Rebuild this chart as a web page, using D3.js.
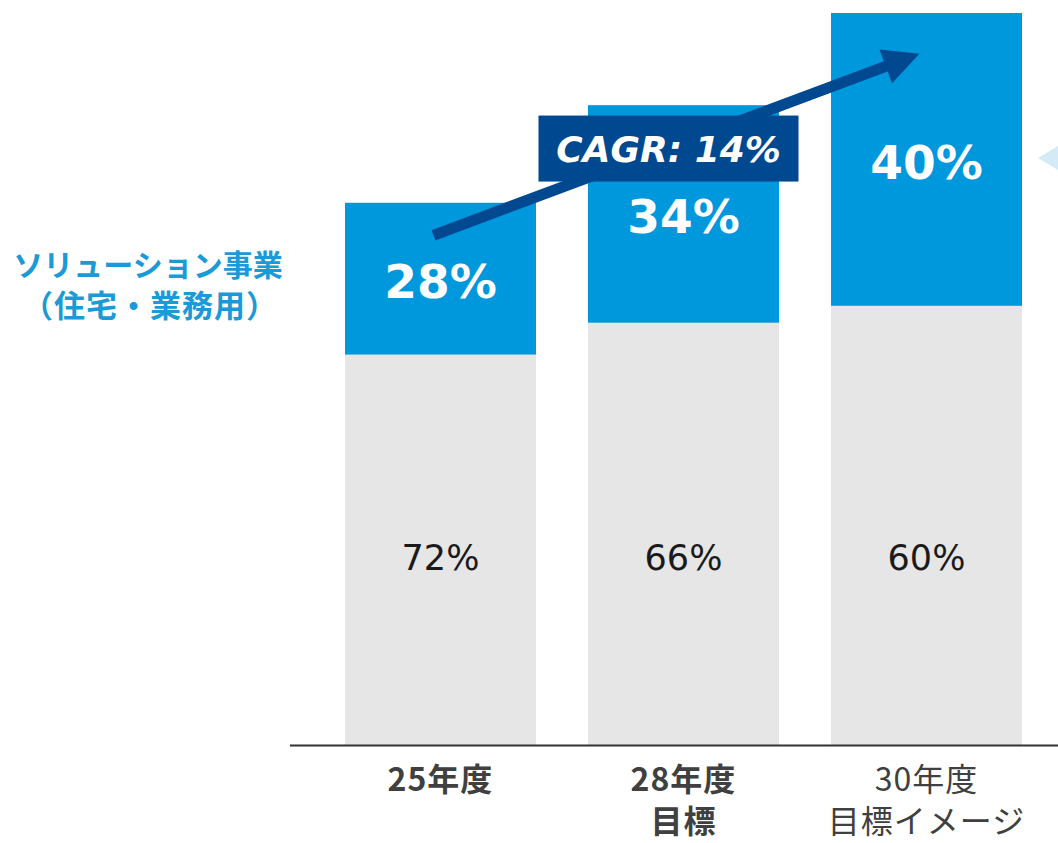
<!DOCTYPE html>
<html>
<head>
<meta charset="utf-8">
<script src="https://cdn.jsdelivr.net/npm/d3@7"></script>
<style>
  html, body { margin: 0; padding: 0; background: #ffffff; }
  svg { display: block; }
</style>
</head>
<body>
<svg id="chart" width="1058" height="843"></svg>
<script>
// Fiscal-year categories and their second label line
const categories = ["25年度", "28年度", "30年度"];
const categorySub = ["", "目標", "目標イメージ"];
const categoryBold = [true, true, false];

// Overall size index (25年度 = 100)
const totals = [100, 118, 135];
// Share of the solution business (住宅・業務用) and of the rest, in %
const solutionShare = [28, 34, 40];
const otherShare = [72, 66, 60];

const cagrLabel = "CAGR: 14%";
const segmentLabel = ["ソリューション事業", "（住宅・業務用）"];

const W = 1058, H = 843;
const svg = d3.select("#chart");

const x = d3.scaleBand()
  .domain(categories)
  .range([345, 1022])
  .paddingInner(0.214)
  .paddingOuter(0);

const y = d3.scaleLinear()
  .domain([0, 135])
  .range([745, 13]);

const rows = categories.map((c, i) => {
  const other = totals[i] * otherShare[i] / 100;
  const sol = totals[i] * solutionShare[i] / 100;
  return { cat: c, i, other, sol, total: other + sol };
});

const BLUE = "#0098dd";
const GRAY = "#e6e6e6";
const NAVY = "#00488f";

// Remaining businesses (bottom segment)
svg.append("g").selectAll("rect")
  .data(rows).join("rect")
  .attr("x", d => x(d.cat))
  .attr("width", x.bandwidth())
  .attr("y", d => y(d.other))
  .attr("height", d => y(0) - y(d.other))
  .attr("fill", GRAY);

// Solution business (top segment)
svg.append("g").selectAll("rect")
  .data(rows).join("rect")
  .attr("x", d => x(d.cat))
  .attr("width", x.bandwidth())
  .attr("y", d => y(d.total))
  .attr("height", d => y(d.other) - y(d.total))
  .attr("fill", BLUE);

// Share labels
svg.append("g").selectAll("text")
  .data(rows).join("text")
  .attr("x", d => x(d.cat) + x.bandwidth() / 2)
  .attr("y", d => (y(d.total) + y(d.other)) / 2 + 3)
  .attr("text-anchor", "middle")
  .attr("dominant-baseline", "central")
  .attr("font-family", "DejaVu Sans, Verdana, sans-serif")
  .attr("font-weight", "bold")
  .attr("font-size", 47)
  .attr("fill", "#ffffff")
  .text(d => solutionShare[d.i] + "%");

svg.append("g").selectAll("text")
  .data(rows).join("text")
  .attr("x", d => x(d.cat) + x.bandwidth() / 2)
  .attr("y", y(34.5))
  .attr("text-anchor", "middle")
  .attr("dominant-baseline", "central")
  .attr("font-family", "DejaVu Sans, Verdana, sans-serif")
  .attr("font-size", 35)
  .attr("fill", "#1a1a1a")
  .text(d => otherShare[d.i] + "%");

// Baseline
svg.append("line")
  .attr("x1", 290).attr("x2", W)
  .attr("y1", y(0) + 0.5).attr("y2", y(0) + 0.5)
  .attr("stroke", "#333333")
  .attr("stroke-width", 2);

// Category labels
const catG = svg.append("g")
  .attr("font-family", "'Noto Sans CJK JP', sans-serif")
  .attr("fill", "#404040")
  .attr("text-anchor", "middle");
rows.forEach(d => {
  const cx = x(d.cat) + x.bandwidth() / 2;
  const t = catG.append("text")
    .attr("x", cx)
    .attr("font-size", 32)
    .attr("letter-spacing", 1)
    .attr("font-weight", categoryBold[d.i] ? "bold" : "normal");
  t.append("tspan").attr("x", cx).attr("y", 791).text(d.cat);
  if (categorySub[d.i]) {
    t.append("tspan").attr("x", cx).attr("y", 833).text(categorySub[d.i]);
  }
});

// Growth arrow from the first to the last bar
const a0 = [x(categories[0]) + x.bandwidth() / 2 - 7, y(94)];
const a1 = [x(categories[2]) + x.bandwidth() / 2 - 7, y(127.5)];
const dx = a1[0] - a0[0], dy = a1[1] - a0[1];
const len = Math.hypot(dx, dy);
const ux = dx / len, uy = dy / len;
const headLen = 36, headHalf = 18;
const base = [a1[0] - ux * headLen, a1[1] - uy * headLen];
svg.append("line")
  .attr("x1", a0[0]).attr("y1", a0[1])
  .attr("x2", base[0] + ux * 2).attr("y2", base[1] + uy * 2)
  .attr("stroke", NAVY)
  .attr("stroke-width", 11);
svg.append("polygon")
  .attr("points", [
    a1,
    [base[0] - uy * headHalf, base[1] + ux * headHalf],
    [base[0] + uy * headHalf, base[1] - ux * headHalf]
  ].map(p => p.join(",")).join(" "))
  .attr("fill", NAVY);

// CAGR badge
const bx = x(categories[1]) + x.bandwidth() / 2 - 15;
const by = y(110);
svg.append("rect")
  .attr("x", bx - 130).attr("y", by - 33)
  .attr("width", 260).attr("height", 66)
  .attr("fill", NAVY);
svg.append("text")
  .attr("x", bx).attr("y", by + 1)
  .attr("text-anchor", "middle")
  .attr("dominant-baseline", "central")
  .attr("font-family", "DejaVu Sans, Verdana, sans-serif")
  .attr("font-weight", "bold")
  .attr("font-style", "italic")
  .attr("font-size", 36)
  .attr("fill", "#ffffff")
  .text(cagrLabel);

// Segment name on the left
const segT = svg.append("text")
  .attr("text-anchor", "middle")
  .attr("font-family", "'Noto Sans CJK JP', sans-serif")
  .attr("font-weight", "bold")
  .attr("font-size", 30)
  .attr("fill", "#1a9ad6");
segT.append("tspan").attr("x", 148).attr("y", 276).text(segmentLabel[0]);
segT.append("tspan").attr("x", 150).attr("y", 317)
  .attr("font-size", 31).attr("letter-spacing", 1).text(segmentLabel[1]);

// Pointer at the right edge
svg.append("polygon")
  .attr("points", `1038,158 ${W},146 ${W},170`)
  .attr("fill", "#d4eaf7");
</script>
</body>
</html>
